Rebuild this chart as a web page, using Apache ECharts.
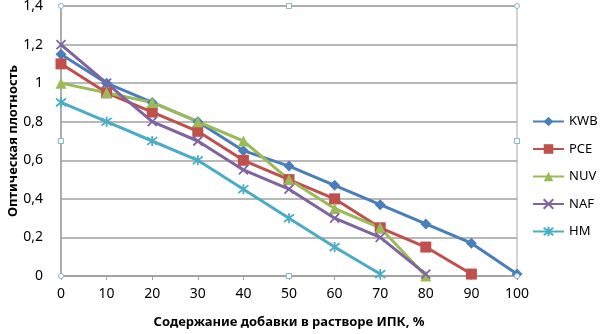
<!DOCTYPE html>
<html>
<head>
<meta charset="utf-8">
<script src="https://cdn.jsdelivr.net/npm/echarts@6/dist/echarts.min.js"></script>
<style>
  html, body { margin: 0; padding: 0; background: #fff; }
  #chart { width: 603px; height: 334px; }
</style>
</head>
<body>
<div id="chart"></div>
<script>
// Additive content in IPA solution, %
const categories = ['0', '10', '20', '30', '40', '50', '60', '70', '80', '90', '100'];

// Optical density per sample
const kwb = [1.15, 1.0, 0.9, 0.8, 0.65, 0.57, 0.47, 0.37, 0.27, 0.17, 0.01];
const pce = [1.1, 0.95, 0.85, 0.75, 0.6, 0.5, 0.4, 0.25, 0.15, 0.01, null];
const nuv = [1.0, 0.95, 0.9, 0.8, 0.7, 0.5, 0.35, 0.25, 0.0, null, null];
const naf = [1.2, 1.0, 0.8, 0.7, 0.55, 0.45, 0.3, 0.2, 0.01, null, null];
const hm  = [0.9, 0.8, 0.7, 0.6, 0.45, 0.3, 0.15, 0.01, null, null, null];

const yTicks = { min: 0, max: 1.4, step: 0.2 };
const yTitle = 'Оптическая плотность';

const FONT = 'Noto Sans';
const CROSS = 'path://M0 0 L10 10 M10 0 L0 10';
const STAR = 'path://M0 0 L10 10 M10 0 L0 10 M5 -1.5 L5 11.5';

function lineSeries(name, data, color, symbol, size, stroked) {
  return {
    name: name,
    type: 'line',
    data: data,
    symbol: symbol,
    symbolSize: size,
    showAllSymbol: true,
    connectNulls: false,
    lineStyle: { color: color, width: 3 },
    itemStyle: stroked
      ? { color: color, borderColor: color, borderWidth: 1.8 }
      : { color: color, borderWidth: 0 },
    emphasis: { disabled: true },
    z: 3
  };
}

const chart = echarts.init(document.getElementById('chart'), null, { renderer: 'canvas' });

chart.setOption({
  animation: false,
  backgroundColor: '#ffffff',
  textStyle: { fontFamily: FONT },
  grid: {
    left: 61, right: 86, top: 6, bottom: 58,
    containLabel: false,
    outerBoundsMode: 'none',
    show: true, borderColor: '#a6a6a6', borderWidth: 1
  },
  legend: {
    orient: 'vertical',
    left: 527,
    top: 110,
    itemWidth: 31,
    itemHeight: 12,
    itemGap: 14.5,
    textStyle: { fontFamily: FONT, fontSize: 13, color: '#000' },
    data: ['KWB', 'PCE', 'NUV', 'NAF', 'HM']
  },
  xAxis: {
    type: 'category',
    data: categories,
    boundaryGap: false,
    name: 'Содержание добавки в растворе ИПК, %',
    nameLocation: 'middle',
    nameGap: 40,
    nameTextStyle: { fontFamily: FONT, fontSize: 13, fontWeight: 'bold', color: '#000' },
    axisLine: { lineStyle: { color: '#a0a0a0', width: 1.5 } },
    axisTick: { show: true, alignWithLabel: true, length: 4, lineStyle: { color: '#a0a0a0' } },
    axisLabel: { fontFamily: FONT, fontSize: 14, color: '#000', margin: 11 },
    splitLine: { show: false }
  },
  yAxis: {
    type: 'value',
    min: yTicks.min,
    max: yTicks.max,
    interval: yTicks.step,
    axisLine: { show: true, lineStyle: { color: '#a0a0a0', width: 1.5 } },
    axisTick: { show: false },
    axisLabel: {
      fontFamily: FONT, fontSize: 14, color: '#000', margin: 18,
      formatter: v => String(+v.toFixed(1)).replace('.', ',')
    },
    splitLine: { lineStyle: { color: '#a0a0a0', width: 1.5 } }
  },
  series: [
    lineSeries('KWB', kwb, '#4a7ebb', 'diamond', 11, false),
    lineSeries('PCE', pce, '#c0504d', 'rect', 11, false),
    lineSeries('NUV', nuv, '#9bbb59', 'triangle', 11, false),
    lineSeries('NAF', naf, '#8064a2', CROSS, 9, true),
    lineSeries('HM', hm, '#4bacc6', STAR, 10, true)
  ]
});

// Vertical axis title and plot-area selection handles
(function drawExtras() {
  const tl = chart.convertToPixel({ gridIndex: 0 }, [0, yTicks.max]);
  const br = chart.convertToPixel({ gridIndex: 0 }, [categories.length - 1, yTicks.min]);
  const midX = (tl[0] + br[0]) / 2, midY = (tl[1] + br[1]) / 2;
  const handleStyle = { fill: '#ffffff', stroke: '#8eb4c8', lineWidth: 1 };
  const circles = [[tl[0], tl[1]], [br[0], tl[1]], [tl[0], br[1]], [br[0], br[1]]];
  const squares = [[midX, tl[1]], [tl[0], midY], [br[0], midY], [midX, br[1]]];
  const elements = [{
    type: 'text',
    x: tl[0] - 48,
    y: midY,
    rotation: Math.PI / 2,
    style: {
      text: yTitle,
      fontFamily: FONT, fontSize: 13, fontWeight: 'bold', fill: '#000',
      align: 'center', verticalAlign: 'middle'
    },
    z: 50
  }];
  circles.forEach(p => elements.push({
    type: 'circle', shape: { cx: p[0], cy: p[1], r: 2.5 }, style: handleStyle, z: 100
  }));
  squares.forEach(p => elements.push({
    type: 'rect', shape: { x: p[0] - 2.5, y: p[1] - 2.5, width: 5, height: 5 }, style: handleStyle, z: 100
  }));
  chart.setOption({ graphic: elements });
})();
</script>
</body>
</html>
